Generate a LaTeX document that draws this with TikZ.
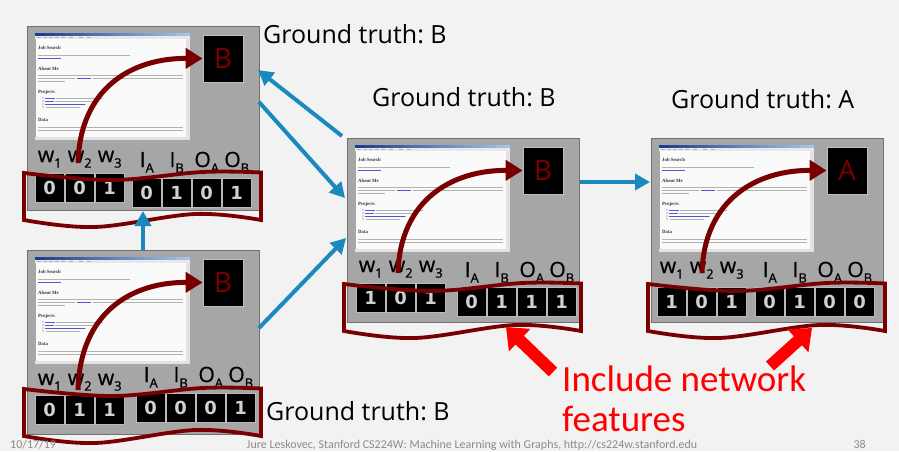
\documentclass[tikz,border=0pt]{standalone}
\usepackage{fontspec}
\setmainfont{Open Sans}
\newfontfamily\calfont{Carlito}
\newfontfamily\digfont{DejaVu Sans}
\newfontfamily\shotfont{Liberation Serif}
\newfontfamily\labfont{Open Sans}[FakeBold=0.7]
\frenchspacing
\usetikzlibrary{arrows.meta}
\definecolor{slidebg}{HTML}{F2F2F2}
\definecolor{panelgray}{HTML}{A6A6A6}
\definecolor{paneledge}{HTML}{707070}
\definecolor{darkred}{HTML}{780000}
\definecolor{arrowblue}{HTML}{1A8ABE}
\definecolor{footgray}{HTML}{8A8A8A}
\definecolor{digitgray}{HTML}{D0D0D0}
\definecolor{titleblue}{HTML}{1A3A8A}
\definecolor{titlelight}{HTML}{A8C4EC}
\definecolor{linkblue}{HTML}{4A5AD8}
\definecolor{brightred}{HTML}{FF0000}

\newcommand\sub[1]{\raisebox{-0.5ex}{\fontsize{13}{13}\selectfont #1}}

\tikzset{
  panelbox/.style={draw=paneledge, line width=1.3, fill=panelgray, minimum width=232, minimum height=184, anchor=north west, inner sep=0},
  shotbox/.style={draw=gray!70, line width=0.6, fill=white!96!gray, minimum width=155, minimum height=107, anchor=north west, inner sep=0},
  shothead/.style={anchor=base west, inner sep=0, font=\shotfont\bfseries\fontsize{4.8}{5}\selectfont, text=black!80},
  shottext/.style={draw=gray!60, line width=0.7},
  shotlink/.style={draw=linkblue, line width=0.7},
  letterbox/.style={fill=black, draw=gray!50, line width=0.8, minimum width=40, minimum height=47, inner sep=0, text=darkred, font=\fontsize{28}{30}\selectfont},
  valbox/.style={fill=black, draw=gray!55, line width=0.8, minimum width=29.5, minimum height=29, inner sep=0, text=digitgray, font=\digfont\bfseries\fontsize{18}{20}\selectfont},
  flabel/.style={anchor=base, inner sep=0, font=\labfont\fontsize{21}{24}\selectfont, text=black},
  curvearrow/.style={draw=darkred, line width=5, -{Triangle[length=17, width=20]}},
  bracketline/.style={draw=darkred, line width=3.8, line join=miter},
  bluearrow/.style={draw=arrowblue, line width=4, -{Triangle[length=15, width=16]}},
  redarrow/.style={draw=brightred, line width=12, -{Triangle[length=19, width=30]}},
  truthlabel/.style={anchor=base west, inner sep=0, font=\fontsize{25}{28}\selectfont, text=black},
  redtext/.style={anchor=base west, inner sep=0, font=\calfont\fontsize{37}{40}\selectfont, text=brightred},
  foottext/.style={inner sep=0, font=\calfont\fontsize{12}{14}\selectfont, text=footgray}
}

\newcommand\shotinside[1]{%
  \fill[left color=titleblue, right color=titlelight] (0,0) rectangle (155,3);
  \fill[gray!18] (0,3) rectangle (155,6);
  \foreach \mx in {2,8,14,20,26,34,44,52} \fill[gray!60] (\mx,4.2) rectangle ++(3.5,0.8);
  \fill[gray!22] (151,6) rectangle (155,107);
  \fill[gray!22] (0,104) rectangle (151,107);
  \node[shothead] (#1-h1) at (3,16) {Job Search};
  \draw[shottext] (3,22) -- (95,22);
  \draw[shotlink] (3,25) -- (26,25);
  \node[shothead] (#1-h2) at (3,37) {About Me};
  \draw[shottext] (3,42) -- (148,42);
  \draw[shottext] (3,45) -- (40,45);
  \draw[shotlink] (42,45) -- (56,45);
  \draw[shottext] (58,45) -- (148,45);
  \draw[shottext] (3,48) -- (30,48);
  \node[shothead] (#1-h3) at (3,60) {Projects};
  \foreach \yy/\ll/\tt in {65/20/68,68/19/62,71/50/50,74/10/45} {
    \fill[black!70] (8,\yy) circle (0.6);
    \draw[shotlink] (10,\yy) -- (\ll,\yy);
    \draw[shottext] (\ll+1,\yy) -- (\tt,\yy);
  }
  \node[shothead] (#1-h4) at (3,88) {Data};
  \draw[shottext] (3,94) -- (148,94);
  \draw[shottext] (3,97) -- (148,97);
}

% parameters set by \def before each panel:
% \pT bracket top, \pGax group-1 x, \pGa group-1 y, \pGbx group-2 x, \pGby group-2 y,
% \pWy w-label baseline, \pIy I/O-label baseline, \pS arrow start y
\newcommand\mypanel[5]{%
\begin{scope}[shift={(#2,#3)}]
  \node[panelbox] (#1) at (0,0) {};
  \node[shotbox] (#1-shot) at (8,7) {};
  \begin{scope}[shift={(8,7)}]
    \shotinside{#1}
  \end{scope}
  \node[letterbox] (#1-gt) at (196,32.5) {#4};
  \foreach \v [count=\i] in {#5} {
    \ifnum\i<4
      \pgfmathsetmacro\bx{\pGax+(\i-1)*30+14.75}\pgfmathsetmacro\by{\pGa+14.5}
    \else
      \pgfmathsetmacro\bx{\pGbx+(\i-4)*30+14.75}\pgfmathsetmacro\by{\pGby+14.5}
    \fi
    \node[valbox] (#1-v\i) at (\bx,\by) {\v};
  }
  \foreach \t [count=\i] in {w\sub{1},w\sub{2},w\sub{3},I\sub{A},I\sub{B},O\sub{A},O\sub{B}} {
    \ifnum\i<4
      \pgfmathsetmacro\bx{\pGax+(\i-1)*30+14.75}\edef\by{\pWy}
    \else
      \pgfmathsetmacro\bx{\pGbx+(\i-4)*30+14.75}\edef\by{\pIy}
    \fi
    \node[flabel] (#1-l\i) at (\bx,\by) {\t};
  }
  \coordinate (#1-s) at (51,\pS);
  \draw[curvearrow] (#1-s) .. controls (53,62) and (105,32) .. (#1-gt.west);
  \draw[bracketline] plot[smooth, tension=0.6] coordinates {(-3,\pT+1) (85,\pT+8) (175,\pT) (234,\pT+0.5)}
     -- plot[smooth, tension=0.6] coordinates {(234,\pT+48) (168,\pT+42) (68,\pT+55) (-3,\pT+48)} -- cycle;
\end{scope}}

\begin{document}
\begin{tikzpicture}[x=1pt,y=-1pt]
\useasboundingbox (0,0) rectangle (899,451);
\fill[slidebg] (0,0) rectangle (899,451);

% top-left panel
\def\pT{146}\def\pGax{8}\def\pGa{147}\def\pGbx{105}\def\pGby{152}\def\pWy{136}\def\pIy{141}\def\pS{137}
\mypanel{tl}{27}{26}{B}{0,0,1,0,1,0,1}

% bottom-left panel
\def\pT{138}\def\pGax{8}\def\pGa{145}\def\pGbx{109}\def\pGby{143}\def\pWy{135}\def\pIy{132}\def\pS{140}
\mypanel{bl}{27}{250}{B}{0,1,1,0,0,0,1}

% middle panel
\def\pT{145}\def\pGax{9}\def\pGa{145}\def\pGbx{110}\def\pGby{149}\def\pWy{134}\def\pIy{139}\def\pS{135}
\mypanel{md}{347}{138}{B}{1,0,1,0,1,1,1}

% right panel
\def\pT{145}\def\pGax{6}\def\pGa{149}\def\pGbx{104}\def\pGby{149}\def\pWy{135}\def\pIy{139}\def\pS{135}
\mypanel{rt}{651}{138}{A}{1,0,1,0,1,0,0}

% ground-truth labels
\node[truthlabel] (gt1) at (263,43) {Ground truth: B};
\node[truthlabel] (gt2) at (372,106) {Ground truth: B};
\node[truthlabel] (gt3) at (671,108) {Ground truth: A};
\node[truthlabel] (gt4) at (266,420) {Ground truth: B};

% blue connectors
\coordinate (a1s) at (342,136); \coordinate (a1e) at (258,70);
\coordinate (a2s) at (259,102); \coordinate (a2e) at (345,198);
\coordinate (a3s) at (259,328); \coordinate (a3e) at (346,238);
\coordinate (a4s) at (143,250); \coordinate (a4e) at (143,211);
\coordinate (a5s) at (580,182); \coordinate (a5e) at (650,182);
\draw[bluearrow] (a1s) -- (a1e);
\draw[bluearrow] (a2s) -- (a2e);
\draw[bluearrow] (a3s) -- (a3e);
\draw[bluearrow] (a4s) -- (a4e);
\draw[bluearrow] (a5s) -- (a5e);

% red callout
\node[redtext] (rt1) at (562,391) {Include network};
\node[redtext] (rt2) at (562,431) {features};
\coordinate (r1s) at (553,372); \coordinate (r1e) at (506,327);
\coordinate (r2s) at (770,366); \coordinate (r2e) at (812,328);
\draw[redarrow] (r1s) -- (r1e);
\draw[redarrow] (r2s) -- (r2e);

% footer
\node[foottext, anchor=base west] (f1) at (10,448) {10/17/19};
\node[foottext, anchor=base] (f2) at (472,448) {Jure Leskovec, Stanford CS224W: Machine Learning with Graphs, http://cs224w.stanford.edu};
\node[foottext, anchor=base east] (f3) at (866,448) {38};
\end{tikzpicture}
\end{document}
